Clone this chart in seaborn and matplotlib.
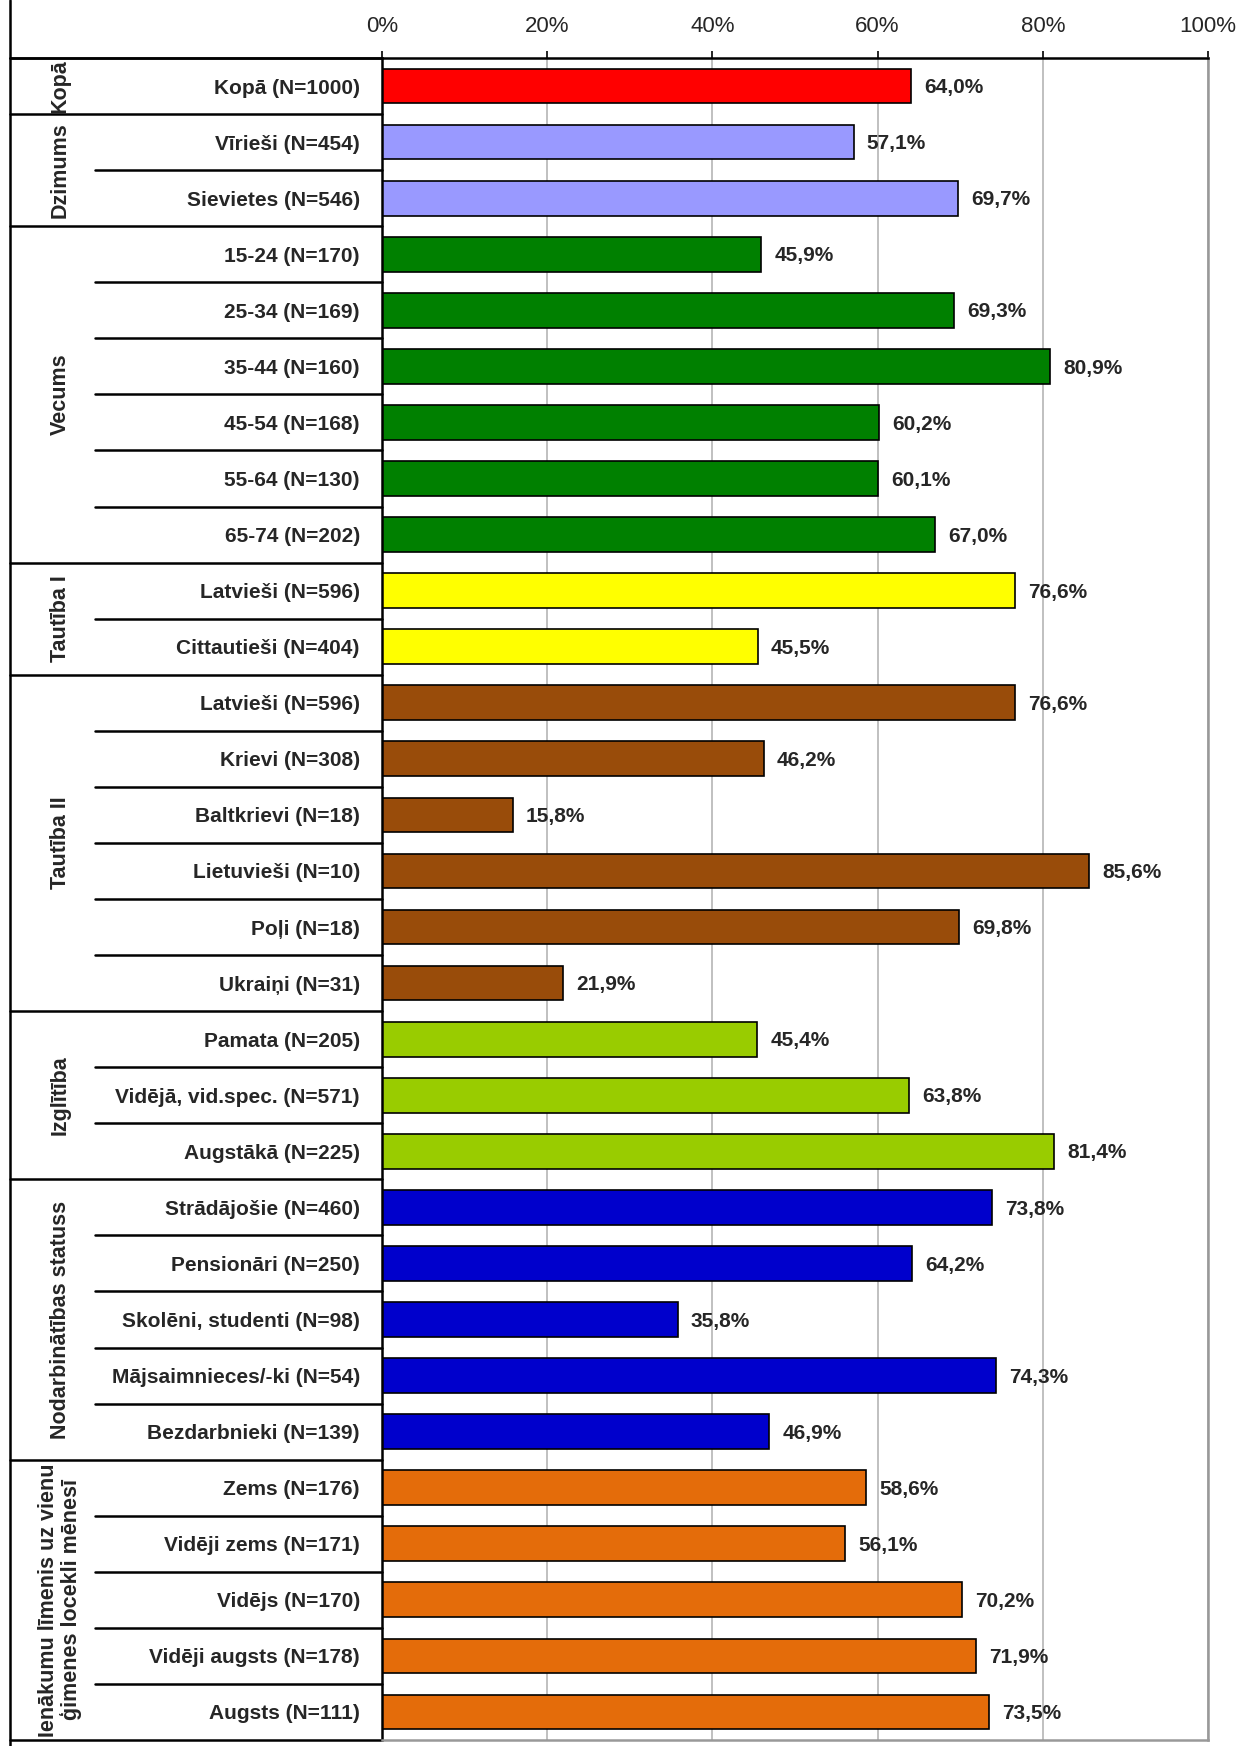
import pandas as pd
import matplotlib.pyplot as plt
import seaborn as sns
from matplotlib.lines import Line2D
from matplotlib.ticker import PercentFormatter

# Chart data
labels = [
    "Kopā (N=1000)",
    "Vīrieši (N=454)", "Sievietes (N=546)",
    "15-24 (N=170)", "25-34 (N=169)", "35-44 (N=160)",
    "45-54 (N=168)", "55-64 (N=130)", "65-74 (N=202)",
    "Latvieši (N=596)", "Cittautieši (N=404)",
    "Latvieši (N=596)", "Krievi (N=308)", "Baltkrievi (N=18)",
    "Lietuvieši (N=10)", "Poļi (N=18)", "Ukraiņi (N=31)",
    "Pamata (N=205)", "Vidējā, vid.spec. (N=571)", "Augstākā (N=225)",
    "Strādājošie (N=460)", "Pensionāri (N=250)", "Skolēni, studenti (N=98)",
    "Mājsaimnieces/-ki (N=54)", "Bezdarbnieki (N=139)",
    "Zems (N=176)", "Vidēji zems (N=171)", "Vidējs (N=170)",
    "Vidēji augsts (N=178)", "Augsts (N=111)",
]
values = [
    64.0,
    57.1, 69.7,
    45.9, 69.3, 80.9, 60.2, 60.1, 67.0,
    76.6, 45.5,
    76.6, 46.2, 15.8, 85.6, 69.8, 21.9,
    45.4, 63.8, 81.4,
    73.8, 64.2, 35.8, 74.3, 46.9,
    58.6, 56.1, 70.2, 71.9, 73.5,
]
groups = ["Kopā", "Dzimums", "Vecums", "Tautība I", "Tautība II",
          "Izglītība", "Nodarbinātības statuss",
          "Ienākumu līmenis uz vienu\nģimenes locekli mēnesī"]
group_sizes = [1, 2, 6, 2, 6, 3, 5, 5]
group_colors = ["#FF0000", "#9999FF", "#008000", "#FFFF00", "#994C0A",
                "#99CC00", "#0000CC", "#E46C0A"]

# one colour per row
row_colors = []
for c, n in zip(group_colors, group_sizes):
    row_colors += [c] * n

df = pd.DataFrame({
    "row": [f"r{i}" for i in range(len(values))],
    "value": values,
})

sns.set_style("white")
plt.rcParams['font.family'] = ['Liberation Sans', 'DejaVu Sans']

fig = plt.figure(figsize=(12.39, 17.46), dpi=100)
W, H = 1239, 1746
left, right, top, bottom = 382, 1208, 58, 1740
ax = fig.add_axes([left / W, 1 - bottom / H, (right - left) / W, (bottom - top) / H])

sns.barplot(
    data=df, x="value", y="row", hue="row",
    palette=row_colors, legend=False, saturation=1,
    width=0.62, edgecolor="black", linewidth=1.2,
    orient="h", ax=ax,
)

ax.set_xlim(0, 100)
ax.set_ylim(len(values) - 0.5, -0.5)
ax.set_xlabel("")
ax.set_ylabel("")

# gridlines
ax.set_xticks([0, 20, 40, 60, 80, 100])
ax.xaxis.set_major_formatter(PercentFormatter(decimals=0))
ax.grid(axis='x', color='#C0C0C0', linewidth=1.4)
ax.set_axisbelow(True)

ax.xaxis.tick_top()
ax.tick_params(axis='x', direction='out', length=5, width=1.2, color='black',
               labelsize=16, pad=10)
ax.set_yticks(range(len(labels)))
ax.set_yticklabels(labels, fontsize=15, fontweight='bold')
ax.tick_params(axis='y', length=0, pad=16)

for side in ['top', 'left']:
    ax.spines[side].set_color('black')
    ax.spines[side].set_linewidth(1.8)
for side in ['right', 'bottom']:
    ax.spines[side].set_color('#999999')
    ax.spines[side].set_linewidth(1.8)

# value labels
for i, v in enumerate(values):
    ax.text(v + 1.6, i + 0.03, f"{v:.1f}%".replace('.', ','),
            va='center', ha='left', fontsize=15, fontweight='bold')

# separators for the category table
trans = ax.get_yaxis_transform()
x_group = (10 - left) / (right - left)
x_inner = (95 - left) / (right - left)
start = 0
for g, n in zip(groups, group_sizes):
    ax.plot([x_group, 0], [start - 0.5, start - 0.5], color='black',
            lw=1.8, transform=trans, clip_on=False)
    for k in range(1, n):
        ax.plot([x_inner, 0], [start + k - 0.5, start + k - 0.5], color='black',
                lw=1.8, transform=trans, clip_on=False)
    mid = start + (n - 1) / 2
    ax.text((60 - left) / (right - left), mid, g, rotation=90,
            ha='center', va='center', fontsize=15.5, fontweight='bold',
            linespacing=1.0, transform=trans)
    start += n
ax.plot([x_group, 0], [start - 0.5, start - 0.5], color='black',
        lw=1.8, transform=trans, clip_on=False)

# outer left border and top line extension
fig.add_artist(Line2D([10 / W, 10 / W], [0, 1], color='black', lw=1.8))
fig.add_artist(Line2D([10 / W, left / W], [1 - top / H, 1 - top / H],
                      color='black', lw=1.8))

fig.savefig("out.png", dpi=100)
